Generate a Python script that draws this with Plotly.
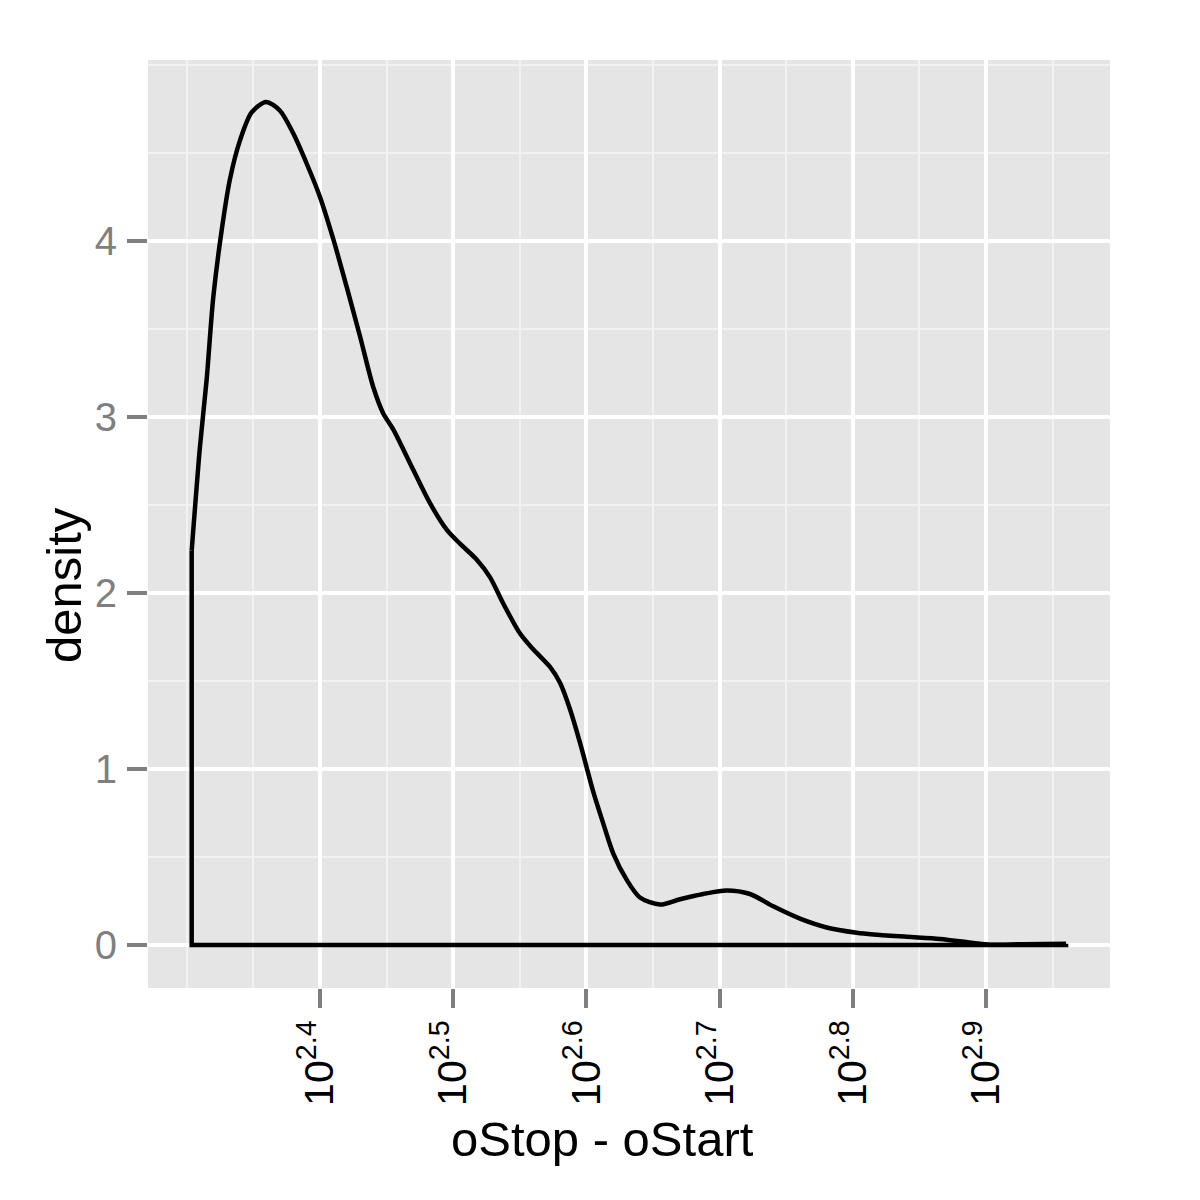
import plotly.graph_objects as go

# log10(oStop - oStart) and estimated density
log_len = [2.3037, 2.3099, 2.3149, 2.3199, 2.3262, 2.3324, 2.3399, 2.3487, 2.3595, 2.3700,
           2.3800, 2.3900, 2.4000, 2.4100, 2.4200, 2.4300, 2.4400, 2.4475, 2.4550, 2.4700,
           2.4826, 2.4951, 2.5051, 2.5176, 2.5276, 2.5376, 2.5502, 2.5601, 2.5727, 2.5802,
           2.5877, 2.5952, 2.6052, 2.6127, 2.6202, 2.6303, 2.6402, 2.6553, 2.6703, 2.6878,
           2.7053, 2.7228, 2.7403, 2.7604, 2.7804, 2.8029, 2.8154, 2.8405, 2.8655, 2.8905,
           2.9030, 2.9278, 2.9601]
density = [2.24, 2.83, 3.21, 3.68, 4.06, 4.35, 4.57, 4.73, 4.79, 4.74,
           4.61, 4.44, 4.25, 4.01, 3.74, 3.46, 3.17, 3.02, 2.93, 2.70,
           2.51, 2.36, 2.28, 2.19, 2.09, 1.94, 1.77, 1.68, 1.58, 1.49,
           1.34, 1.15, 0.87, 0.69, 0.52, 0.37, 0.27, 0.23, 0.26, 0.29,
           0.31, 0.29, 0.22, 0.15, 0.10, 0.07, 0.06, 0.047, 0.035, 0.012,
           0.002, 0.005, 0.007]

x_tickvals = [2.4, 2.5, 2.6, 2.7, 2.8, 2.9]
x_ticktext = ["10<sup>%s</sup>" % v for v in ["2.4", "2.5", "2.6", "2.7", "2.8", "2.9"]]
y_tickvals = [0, 1, 2, 3, 4]
y_ticktext = ["0", "1", "2", "3", "4"]

fig = go.Figure()
# density curve
fig.add_trace(go.Scatter(x=log_len, y=density, mode="lines",
                         line=dict(color="black", width=4.5, shape="spline", smoothing=0.8),
                         hoverinfo="skip", showlegend=False))
# outline closing (right end -> baseline -> left edge), as geom_density draws it
fig.add_trace(go.Scatter(x=[log_len[-1], log_len[-1], log_len[0], log_len[0]],
                         y=[density[-1], 0, 0, density[0]], mode="lines",
                         line=dict(color="black", width=4.5),
                         hoverinfo="skip", showlegend=False))

font = "Liberation Sans, Arial, Helvetica, sans-serif"
# page body adds an 8px offset; panel sits at x 148..1110, y 60..988 on screen
fig.update_layout(
    width=1200, height=1200,
    paper_bgcolor="white", plot_bgcolor="#E5E5E5",
    margin=dict(l=140, r=98, t=52, b=220, pad=0),
    font=dict(family=font, color="black"),
    showlegend=False,
)
fig.update_xaxes(
    range=[2.2709, 2.9931], showline=False, zeroline=False,
    tickmode="array", tickvals=x_tickvals, ticktext=x_ticktext,
    tickangle=-90, tickfont=dict(size=41, color="black", family=font),
    ticks="outside", ticklen=19, tickwidth=4, tickcolor="#7F7F7F",
    ticklabelstandoff=-4,
    showgrid=True, gridcolor="white", gridwidth=3.5,
    minor=dict(dtick=0.05, tick0=2.3, showgrid=True, gridcolor="#F2F2F2",
               gridwidth=1.8, ticks=""),
)
fig.update_yaxes(
    range=[-0.244, 5.028], showline=False, zeroline=False,
    tickmode="array", tickvals=y_tickvals, ticktext=y_ticktext,
    tickfont=dict(size=40, color="#7F7F7F", family=font),
    ticks="outside", ticklen=20, tickwidth=4, tickcolor="#7F7F7F",
    ticklabelstandoff=2,
    showgrid=True, gridcolor="white", gridwidth=3.5,
    minor=dict(dtick=0.5, tick0=0, showgrid=True, gridcolor="#F2F2F2",
               gridwidth=1.8, ticks=""),
)
fig.add_annotation(text="oStop - oStart", xref="paper", yref="paper",
                   x=(602 - 148) / 962, y=-(1139 - 988) / 928,
                   xanchor="center", yanchor="middle", showarrow=False,
                   font=dict(size=49, color="black", family=font))
fig.add_annotation(text="density", xref="paper", yref="paper",
                   x=-(148 - 64) / 962, y=(988 - 585) / 928,
                   xanchor="center", yanchor="middle", textangle=-90,
                   showarrow=False,
                   font=dict(size=49, color="black", family=font))

fig.write_html("out.html")
